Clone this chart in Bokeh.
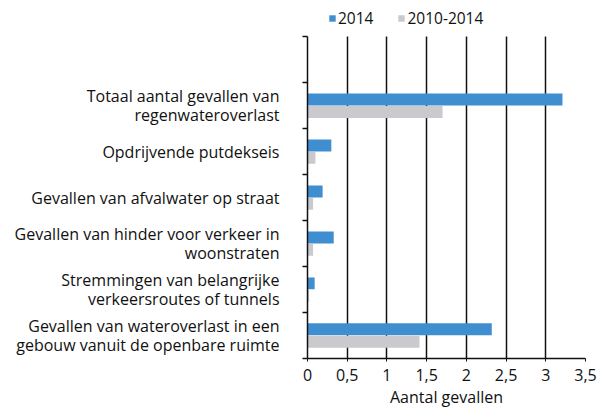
from bokeh.plotting import figure
from bokeh.models import ColumnDataSource, FixedTicker, Legend, LegendItem, Range1d
from bokeh.embed import file_html
from bokeh.resources import INLINE

categories = [
    "Gevallen van wateroverlast in een\ngebouw vanuit de openbare ruimte",
    "Stremmingen van belangrijke\nverkeersroutes of tunnels",
    "Gevallen van hinder voor verkeer in\nwoonstraten",
    "Gevallen van afvalwater op straat",
    "Opdrijvende putdekseis",
    "Totaal aantal gevallen van\nregenwateroverlast",
]
values_2014 = [2.32, 0.09, 0.33, 0.19, 0.30, 3.21]
values_2010_2014 = [1.41, 0.02, 0.07, 0.07, 0.10, 1.70]
series_names = ["2014", "2010-2014"]
x_ticks = [0.0, 0.5, 1.0, 1.5, 2.0, 2.5, 3.0, 3.5]
x_tick_labels = ["0", "0,5", "1", "1,5", "2", "2,5", "3", "3,5"]

BLUE = "#3f8ecf"
GREY = "#c9c9ce"
FONT = "Open Sans"
INK = "#111111"

n = len(categories)
pos = list(range(n))
src = ColumnDataSource(dict(
    y_a=[k + 0.135 for k in pos],
    y_b=[k - 0.135 for k in pos],
    v_a=values_2014,
    v_b=values_2010_2014,
))

# frame spans from the figure top; an empty strip above the last band holds the legend
p = figure(width=597, height=410, output_backend="svg", toolbar_location=None,
           x_range=Range1d(0, 3.5), y_range=Range1d(-0.5, n + 0.5 + 0.79),
           min_border_left=307, min_border_right=12, min_border_top=0, min_border_bottom=40)
p.outline_line_color = None
p.background_fill_color = "white"

r1 = p.hbar(y="y_a", right="v_a", left=0, height=0.26, source=src, fill_color=BLUE, line_color=None)
r2 = p.hbar(y="y_b", right="v_b", left=0, height=0.26, source=src, fill_color=GREY, line_color=None)

# x axis
p.xaxis.ticker = FixedTicker(ticks=x_ticks)
p.xaxis.major_label_overrides = {t: l for t, l in zip(x_ticks, x_tick_labels)}
p.xaxis.axis_label = "Aantal gevallen"
p.xaxis.axis_label_text_font = FONT
p.xaxis.axis_label_text_font_size = "16px"
p.xaxis.axis_label_text_font_style = "normal"
p.xaxis.axis_label_text_color = INK
p.xaxis.axis_label_standoff = 2
p.xaxis.major_label_text_font = FONT
p.xaxis.major_label_text_font_size = "16px"
p.xaxis.major_label_text_color = INK
p.xaxis.major_label_standoff = 7
p.xaxis.axis_line_color = INK
p.xaxis.axis_line_width = 1.5
p.xaxis.major_tick_out = 3
p.xaxis.major_tick_in = 0
p.xaxis.major_tick_line_color = INK
p.xaxis.minor_tick_line_color = None

# y axis
p.yaxis.bounds = (-0.5, n + 0.5)
p.yaxis.ticker = FixedTicker(ticks=pos, minor_ticks=[k - 0.5 for k in range(n + 2)])
p.yaxis.major_label_overrides = {k: c for k, c in zip(pos, categories)}
p.yaxis.major_label_text_font = FONT
p.yaxis.major_label_text_font_size = "16px"
p.yaxis.major_label_text_color = INK
p.yaxis.major_label_text_line_height = 0.85
p.yaxis.major_label_standoff = 22
p.yaxis.major_tick_line_color = None
p.yaxis.minor_tick_out = 5
p.yaxis.minor_tick_in = 0
p.yaxis.minor_tick_line_color = INK
p.yaxis.minor_tick_line_width = 1.5
p.yaxis.axis_line_color = INK
p.yaxis.axis_line_width = 1.5

p.xgrid.ticker = FixedTicker(ticks=x_ticks)
p.xgrid.cross_bounds = (-0.5, n + 0.5)
p.xgrid.grid_line_color = INK
p.xgrid.grid_line_width = 1.5
p.ygrid.grid_line_color = None

legend = Legend(items=[LegendItem(label=series_names[0], renderers=[r1]),
                       LegendItem(label=series_names[1], renderers=[r2])],
                orientation="horizontal", location=(21, 329),
                glyph_width=8, glyph_height=8, label_standoff=2, spacing=24,
                padding=0, margin=0, border_line_color=None, background_fill_alpha=0,
                label_text_font=FONT, label_text_font_size="15.5px", label_text_color=INK)
p.add_layout(legend, "center")

open("out.html", "w").write(file_html(p, INLINE))
